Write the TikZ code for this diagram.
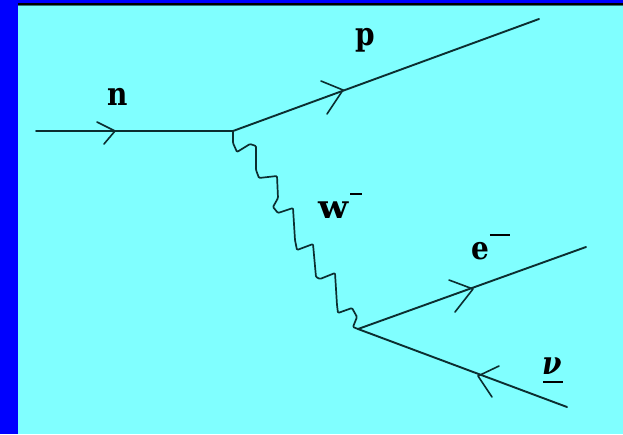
\documentclass[tikz,border=0pt]{standalone}
\usepackage{fontspec}
\newfontfamily\labfont{DejaVu Serif}
\definecolor{bgcyan}{HTML}{80FFFF}
\definecolor{barblue}{HTML}{0000FF}
\definecolor{inkline}{HTML}{0C2E30}
\tikzset{
  particle/.style={draw=inkline,line width=1.9pt,line cap=round,line join=round},
  barb/.style={draw=inkline,line width=1.6pt,line cap=round,line join=round},
  boson/.style={draw=inkline,line width=1.7pt,line join=round,rounded corners=1pt},
  lab/.style={inner sep=0pt,text=black,font=\labfont\fontsize{28}{28}\selectfont\bfseries,transform shape,yscale=1.15,anchor=center}
}
\newcommand{\upbar}[3]{\rlap{\smash{\kern#3\raisebox{#2}{\rule{#1}{2pt}}}}}
\begin{document}
\begin{tikzpicture}[x=1pt,y=-1pt]
\useasboundingbox (0,0) rectangle (623,434);
\fill[bgcyan] (0,0) rectangle (623,434);
\fill[barblue] (0,0) rectangle (18,434);
\fill[barblue] (0,0) rectangle (623,3.2);
\fill[black] (18,3.2) rectangle (623,5);
\fill[black!55!bgcyan] (18,5) rectangle (623,6.2);
% vertices and free ends
\coordinate (nstart) at (36,131);
\coordinate (va) at (233,131);
\coordinate (vb) at (358,329);
\coordinate (pend) at (539,19);
\coordinate (eend) at (586,247);
\coordinate (nuend) at (567,407);
% arrow tips and barbs
\coordinate (ntip) at (115,131);
\coordinate (nb1) at (97,122);
\coordinate (nb2) at (104,144);
\coordinate (ptip) at (343,90);
\coordinate (pb1) at (321,81);
\coordinate (pb2) at (327,114);
\coordinate (etip) at (473,289);
\coordinate (eb1) at (449,280);
\coordinate (eb2) at (455,312);
\coordinate (nutip) at (478,376);
\coordinate (nub1) at (499,366);
\coordinate (nub2) at (492,397);
% fermion lines
\draw[particle] (nstart) -- (va);
\draw[particle] (va) -- (pend);
\draw[particle] (vb) -- (eend);
\draw[particle] (vb) -- (nuend);
\draw[barb] (nb1) -- (ntip) -- (nb2);
\draw[barb] (pb1) -- (ptip) -- (pb2);
\draw[barb] (eb1) -- (etip) -- (eb2);
\draw[barb] (nub1) -- (nutip) -- (nub2);
% W boson
\draw[boson] (va) -- (233,143) -- (237,152) -- (250,144) -- (256,146) -- (256,170)
  -- (259,178) -- (277,176) -- (278,198) -- (273,207) -- (278,213) -- (293,208)
  -- (295,240) -- (297,250) -- (313,244) -- (316,277) -- (320,279) -- (335,273)
  -- (337,305) -- (338,313) -- (352,308) -- (357,317) -- (353,327) -- (vb);
% labels
\node[lab] (lbn) at (118,97) {n};
\node[lab] (lbp) at (365,40) {p};
\node[lab,xscale=1.25] (lbw) at (333.5,210) {w\upbar{9.6pt}{20pt}{1.5pt}};
\node[lab] (lbe) at (480,251) {e\upbar{20pt}{20pt}{1pt}};
\node[lab] (lbnu) at (552.5,366.5) {\itshape ν\upbar{20pt}{-7.5pt}{-19pt}};
\end{tikzpicture}
\end{document}
